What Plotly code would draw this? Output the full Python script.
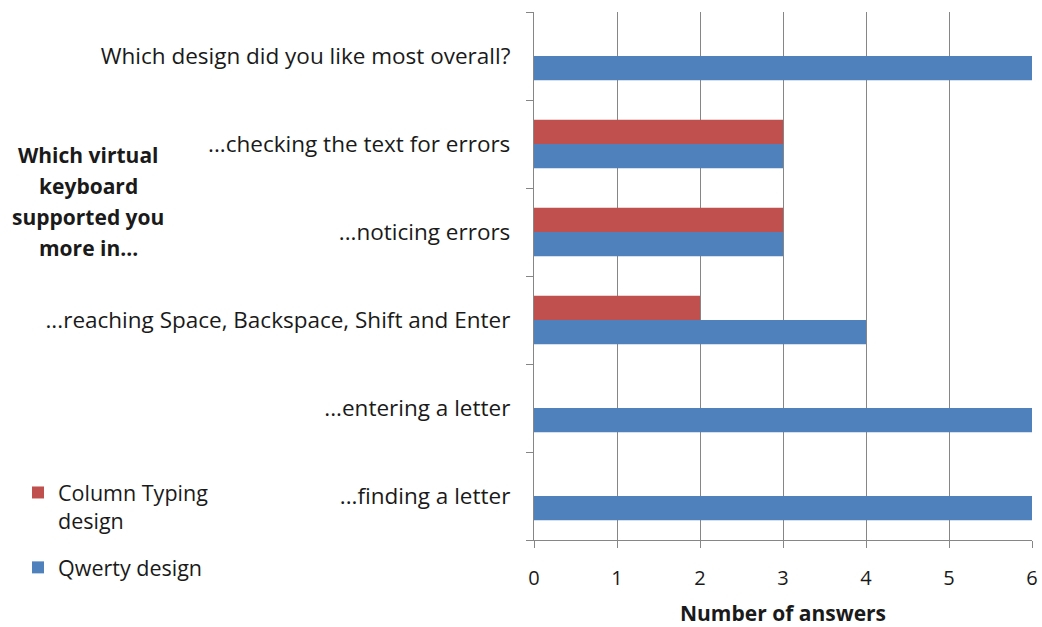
import plotly.graph_objects as go

# Survey questions, listed bottom to top as they appear on the axis
questions = [
    "...finding a letter",
    "...entering a letter",
    "...reaching Space, Backspace, Shift and Enter",
    "...noticing errors",
    "...checking the text for errors",
    "Which design did you like most overall?",
]
qwerty_answers = [6, 6, 4, 3, 3, 6]
column_typing_answers = [0, 0, 2, 3, 3, 0]
x_ticks = [0, 1, 2, 3, 4, 5, 6]
side_title_lines = ["Which virtual", "keyboard", "supported you", "more in..."]

FONT = "Open Sans"
TEXT = "#1a1a1a"
AXIS_GRAY = "#868686"

fig = go.Figure()
fig.add_trace(go.Bar(
    y=questions, x=qwerty_answers, orientation="h",
    name="Qwerty design", marker=dict(color="#4F81BD", line=dict(width=0)),
    legendgroup="q", legendrank=2,
))
fig.add_trace(go.Bar(
    y=questions, x=column_typing_answers, orientation="h",
    name="Column Typing<br>design", marker=dict(color="#C0504D", line=dict(width=0)),
    legendgroup="c", legendrank=1,
))

W, H = 1042, 627
L, R, T, B = 534, 10, 12, 87
PW, PH = W - L - R, H - T - B


def px_x(x):
    return (x - L) / PW


def px_y(y):
    return (H - y - B) / PH


# Bold heading to the left of the question labels
for i, line in enumerate(side_title_lines):
    fig.add_annotation(
        text=f"<b>{line}</b>", x=px_x(88), y=px_y(155 + 31 * i),
        xref="paper", yref="paper", showarrow=False,
        font=dict(family=FONT, size=21, color=TEXT),
        xanchor="center", yanchor="middle",
    )

fig.update_layout(
    width=W, height=H,
    margin=dict(l=L, r=R, t=T, b=B, autoexpand=False),
    paper_bgcolor="white", plot_bgcolor="white",
    barmode="group", bargap=0.45, bargroupgap=0,
    font=dict(family=FONT, size=20, color=TEXT),
    legend=dict(
        traceorder="grouped", tracegroupgap=16,
        x=px_x(18), y=px_y(472),
        xanchor="left", yanchor="top", valign="top",
        font=dict(family=FONT, size=21.5, color=TEXT),
        itemwidth=30, bgcolor="rgba(0,0,0,0)",
    ),
    xaxis=dict(
        range=[0, 6], tickvals=x_ticks, ticktext=[str(v) for v in x_ticks],
        showgrid=True, gridcolor=AXIS_GRAY, gridwidth=1.3,
        showline=True, linecolor=AXIS_GRAY, linewidth=1.3,
        ticks="outside", ticklen=7, tickcolor=AXIS_GRAY, tickwidth=1.3,
        ticklabelstandoff=13, zeroline=False,
        title=dict(text="<b>Number of answers</b>", standoff=21,
                   font=dict(family=FONT, size=21, color=TEXT)),
        tickfont=dict(family=FONT, size=20, color=TEXT),
    ),
    yaxis=dict(
        type="category", showgrid=False,
        showline=True, linecolor=AXIS_GRAY, linewidth=1.3,
        ticks="outside", tickson="boundaries", ticklen=7,
        tickcolor=AXIS_GRAY, tickwidth=1.3, ticklabelstandoff=18,
        tickfont=dict(family=FONT, size=22.5, color=TEXT),
        automargin=False,
    ),
)

fig.write_html("out.html")
